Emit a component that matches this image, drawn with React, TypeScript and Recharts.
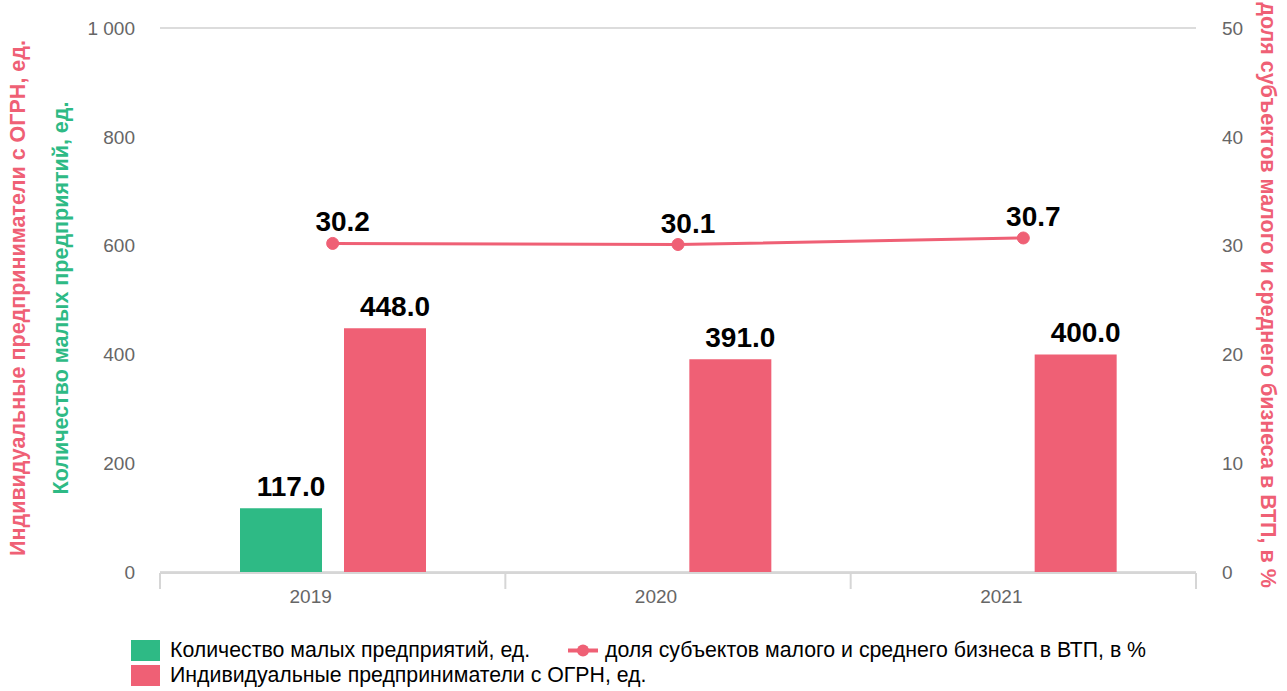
import React from "react";
import {
  ComposedChart,
  Bar,
  Line,
  XAxis,
  YAxis,
  CartesianGrid,
  LabelList,
  Legend,
} from "recharts";

const years = ["2019", "2020", "2021"];
const smallEnterprises = [117, null, null];
const entrepreneurs = [448, 391, 400];
const smbShare = [30.2, 30.1, 30.7];
const leftTicks = [0, 200, 400, 600, 800, 1000];
const rightTicks = [0, 10, 20, 30, 40, 50];
const boundaryTicks = [0, 1, 2, 3];

const GREEN = "#2eba85";
const RED = "#ef6075";
const FONT = '"Liberation Sans", Arial, sans-serif';

const data = years.map((year, i) => ({
  year,
  small: smallEnterprises[i],
  ip: entrepreneurs[i],
  share: smbShare[i],
  pos: i + 0.5,
}));

const fmtThousands = (v: number) =>
  String(v).replace(/\B(?=(\d{3})+(?!\d))/g, " ");

// value label shifted a bit to the right, like in the source
const renderValue = (props: any) => {
  const { x, y, width, value } = props;
  if (value === null || value === undefined) return null;
  const cx = x + (width || 0) / 2 + 10;
  return (
    <text
      x={cx}
      y={y - 12}
      textAnchor="middle"
      fill="#000"
      style={{ fontSize: 28, fontWeight: "bold", fontFamily: FONT }}
    >
      {Number(value).toFixed(1)}
    </text>
  );
};

const LeftTitles = (props: any) => {
  const cy = 298;
  return (
    <g style={{ fontSize: 21.5, fontWeight: "bold", fontFamily: FONT }}>
      <text
        x={18}
        y={cy}
        fill={RED}
        textAnchor="middle"
        dominantBaseline="central"
        transform={`rotate(-90 18 ${cy})`}
      >
        Индивидуальные предприниматели с ОГРН, ед.
      </text>
      <text
        x={61}
        y={cy}
        fill={GREEN}
        textAnchor="middle"
        dominantBaseline="central"
        transform={`rotate(-90 61 ${cy})`}
      >
        Количество малых предприятий, ед.
      </text>
    </g>
  );
};

const RightTitle = (props: any) => {
  const cx = 1268;
  const cy = 295;
  return (
    <text
      x={cx}
      y={cy}
      fill={RED}
      textAnchor="middle"
      dominantBaseline="central"
      transform={`rotate(90 ${cx} ${cy})`}
      style={{ fontSize: 21.5, fontWeight: "bold", fontFamily: FONT }}
    >
      доля субъектов малого и среднего бизнеса в ВТП, в %
    </text>
  );
};

const legendItems = [
  { label: "Количество малых предприятий, ед.", color: GREEN, type: "bar" },
  {
    label: "доля субъектов малого и среднего бизнеса в ВТП, в %",
    color: RED,
    type: "line",
  },
  { label: "Индивидуальные предприниматели с ОГРН, ед.", color: RED, type: "bar" },
];

const renderLegend = () => (
  <div
    style={{
      display: "grid",
      gridTemplateColumns: "437px auto",
      rowGap: 4,
      fontFamily: FONT,
      fontSize: 21.3,
      lineHeight: "21px",
      color: "#000",
      whiteSpace: "nowrap",
    }}
  >
    {legendItems.map((item) => (
      <div
        key={item.label}
        style={{ display: "flex", alignItems: "center", height: 21 }}
      >
        {item.type === "bar" ? (
          <svg width={29} height={21} style={{ marginRight: 10, flexShrink: 0 }}>
            <rect x={0} y={0} width={29} height={21} fill={item.color} />
          </svg>
        ) : (
          <svg width={30} height={21} style={{ marginRight: 7, flexShrink: 0 }}>
            <line x1={0} y1={10.5} x2={30} y2={10.5} stroke={item.color} strokeWidth={4} />
            <circle cx={15} cy={10.5} r={6} fill={item.color} />
          </svg>
        )}
        <span>{item.label}</span>
      </div>
    ))}
  </div>
);

export default function App() {
  return (
    <div style={{ position: "absolute", left: 0, top: 0, fontFamily: FONT }}>
      <ComposedChart
        width={1287}
        height={691}
        data={data}
        margin={{ top: 28, right: 0, bottom: 0, left: 0 }}
        barSize={82}
        barGap={22}
      >
        <CartesianGrid vertical={false} stroke="#dcdcdc" strokeWidth={2} />
        {/* category axis sits right on the plot edge; labels overflow below it */}
        <XAxis
          dataKey="year"
          axisLine={false}
          tickLine={false}
          tickSize={0}
          tickMargin={18}
          height={1}
          tick={{ fill: "#666", fontSize: 19, dx: -22 }}
        />
        {/* boundary ticks between the categories */}
        <XAxis
          xAxisId="bounds"
          type="number"
          dataKey="pos"
          domain={[0, 3]}
          ticks={boundaryTicks}
          interval={0}
          tick={() => <g />}
          tickSize={16}
          height={72}
          axisLine={{ stroke: "#d6d6d6", strokeWidth: 2 }}
          tickLine={{ stroke: "#d6d6d6", strokeWidth: 2 }}
        />
        <YAxis
          yAxisId="left"
          width={160}
          domain={[0, 1000]}
          ticks={leftTicks}
          tickFormatter={fmtThousands}
          axisLine={false}
          tickLine={false}
          tickSize={0}
          tickMargin={25}
          tick={{ fill: "#666", fontSize: 19 }}
          label={<LeftTitles />}
        />
        <YAxis
          yAxisId="right"
          orientation="right"
          width={91}
          domain={[0, 50]}
          ticks={rightTicks}
          axisLine={false}
          tickLine={false}
          tickSize={0}
          tickMargin={26}
          tick={{ fill: "#666", fontSize: 19, textAnchor: "start" }}
          label={<RightTitle />}
        />
        <Bar
          yAxisId="left"
          dataKey="small"
          name="Количество малых предприятий, ед."
          fill={GREEN}
          isAnimationActive={false}
        >
          <LabelList dataKey="small" content={renderValue} />
        </Bar>
        <Bar
          yAxisId="left"
          dataKey="ip"
          name="Индивидуальные предприниматели с ОГРН, ед."
          fill={RED}
          isAnimationActive={false}
        >
          <LabelList dataKey="ip" content={renderValue} />
        </Bar>
        {/* invisible helper series so the boundary axis gets drawn */}
        <Line
          xAxisId="bounds"
          yAxisId="right"
          dataKey="share"
          stroke="none"
          dot={false}
          activeDot={false}
          legendType="none"
          isAnimationActive={false}
        />
        <Line
          yAxisId="right"
          dataKey="share"
          name="доля субъектов малого и среднего бизнеса в ВТП, в %"
          stroke={RED}
          strokeWidth={3}
          dot={{ r: 6, fill: RED, stroke: RED, strokeWidth: 1 }}
          isAnimationActive={false}
        >
          <LabelList dataKey="share" content={renderValue} />
        </Line>
        <Legend
          content={renderLegend}
          wrapperStyle={{ position: "absolute", left: 131, top: 640, width: 1100 }}
        />
      </ComposedChart>
    </div>
  );
}
